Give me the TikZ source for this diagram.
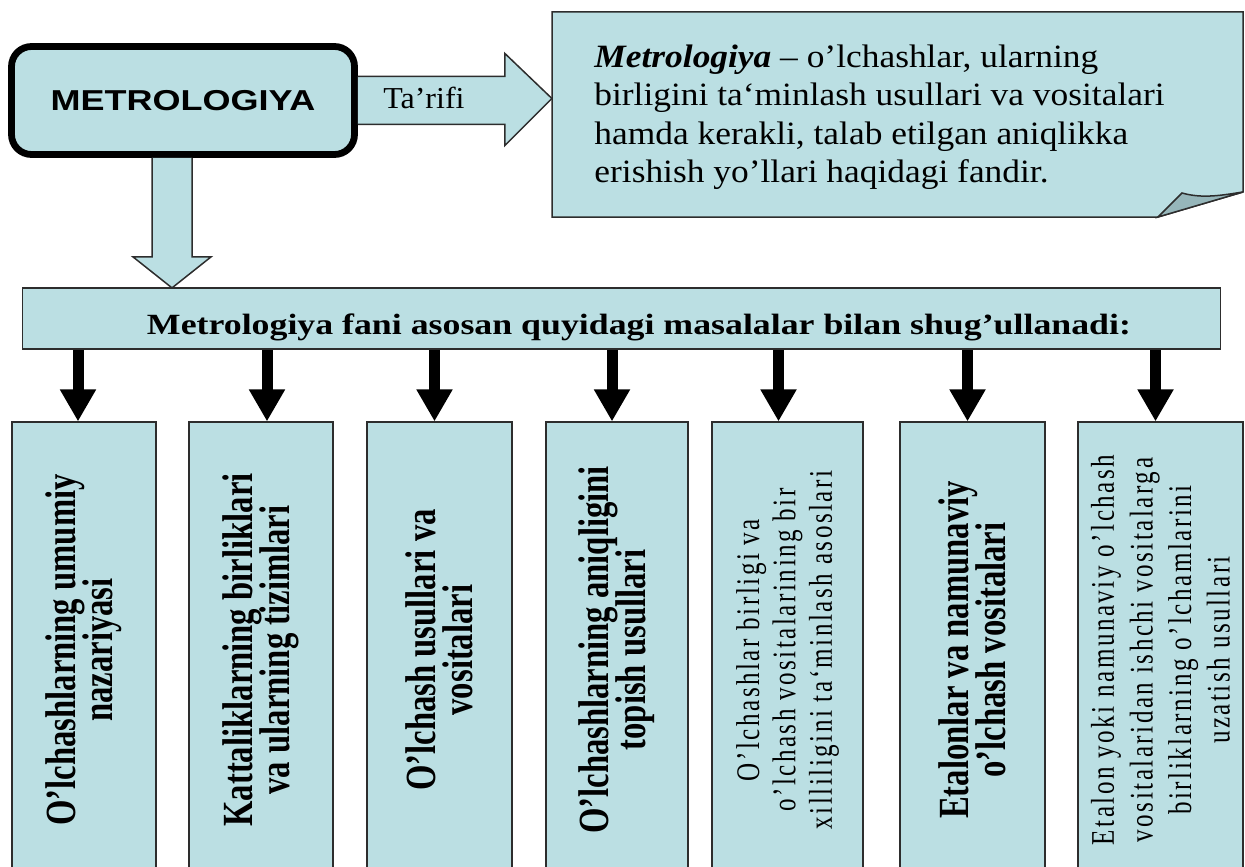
\documentclass[tikz,border=0pt]{standalone}
\usepackage{fontspec}
\usepackage{graphicx}
\setmainfont{Liberation Serif}
\newfontfamily\headfont{Liberation Sans}
\newfontfamily\spacedfont[LetterSpace=10]{Liberation Serif}
\usetikzlibrary{arrows.meta,calc}
\definecolor{boxblue}{RGB}{187,223,227}
\definecolor{foldblue}{RGB}{150,182,186}
\definecolor{edge}{RGB}{45,45,45}
\newcommand{\squash}[1]{\scalebox{1}[0.8]{#1}}
\begin{document}
\begin{tikzpicture}[x=0.5pt,y=-0.5pt,
    panel/.style={draw=edge,line width=0.75pt,fill=boxblue},
    squash/.style={yscale=#1,inner sep=0pt},
    topic/.style={panel,rotate=90,xscale=0.76,minimum width=300pt,align=center,inner sep=0pt},
    boldtopic/.style={topic,font={\fontsize{21.5}{18.5}\selectfont\bfseries\lineskiplimit=-30pt}},
    thintopic/.style={topic,font={\spacedfont\fontsize{16.5}{18.2}\selectfont\lineskiplimit=-30pt}},
    pointer/.style={line width=5.5pt,-{Triangle[width=17pt,length=16pt]}},
    fatarrow/.style={draw=edge,line width=0.75pt,fill=boxblue}]
  \useasboundingbox (0,0) rectangle (1245,866);

  % title and definition
  \node[draw,line width=3.4pt,rounded corners=10pt,fill=boxblue,
        minimum width=171.5pt,minimum height=54pt,
        font={\headfont\bfseries\fontsize{18}{20}\selectfont}] (metro) at (183,100.5) {\squash{METROLOGIYA}};
  \node[minimum width=345.5pt,minimum height=102.5pt,inner sep=0pt,outer sep=0pt] (def) at (897.5,114.5) {};
  \draw[panel] (def.north west) -- (def.north east) -- ($(def.south east)+(0,-25)$)
    -- ($(def.south east)+(-85,0)$) -- (def.south west) -- cycle;
  \draw[draw=edge,line width=0.75pt,fill=foldblue] ($(def.south east)+(-85,0)$) -- ($(def.south east)+(-61,-24)$)
    .. controls ($(def.south east)+(-40,-18)$) and ($(def.south east)+(-20,-22)$) .. ($(def.south east)+(0,-25)$) -- cycle;
  \node[squash=0.92,anchor=north west,align=left,font={\fontsize{17.7}{20.9}\selectfont}] (deftext)
    at ($(def.north west)+(42,32.5)$) {\textbf{\textit{Metrologiya}} – o’lchashlar, ularning\\
    birligini ta‘minlash usullari va vositalari\\
    hamda kerakli, talab etilgan aniqlikka\\
    erishish yo’llari haqidagi fandir.};

  \draw[fatarrow] ($(metro.east)+(0,-24)$) -- ++(147,0) -- ++(0,-23) -- ($(metro.east)+(194,-2)$)
    -- ($(metro.east)+(147,45)$) -- ++(0,-21) -- ($(metro.east)+(0,24)$);
  \node[squash=0.95,font={\fontsize{16}{18}\selectfont}] (tarif) at ($(metro.east)+(66,-3)$) {Ta’rifi};

  % banner
  \node[panel,minimum width=599pt,minimum height=30.5pt] (banner) at (621.5,318.5) {};
  \node[squash=0.82,anchor=base,font={\fontsize{17.9}{20}\selectfont\bfseries}] (bannertext) at (639,334.5)
    {Metrologiya fani asosan quyidagi masalalar bilan shug’ullanadi:};
  \draw[fatarrow] ($(metro.south)+(-31,0)$) -- ++(0,99) -- ++(-19,0) -- ($(metro.south)+(-11,130)$)
    -- ($(metro.south)+(28,99)$) -- ++(-19,0) -- ($(metro.south)+(9,0)$);

  % tasks
  \node[boldtopic,minimum height=72pt] (b1) at (84,650) {O’lchashlarning umumiy\\nazariyasi};
  \node[boldtopic,minimum height=72pt] (b2) at (261,650) {Kattaliklarning birliklari\\va ularning tizimlari};
  \node[boldtopic,minimum height=72.5pt] (b3) at (439.5,650) {O’lchash usullari va\\vositalari};
  \node[boldtopic,minimum height=71pt] (b4) at (617,650) {O’lchashlarning aniqligini\\topish usullari};
  \node[thintopic,minimum height=75.5pt] (b5) at (787.5,650) {O’lchashlar birligi va\\o’lchash vositalarining bir\\xilliligini ta‘minlash asoslari};
  \node[boldtopic,minimum height=72.5pt] (b6) at (972.5,650) {Etalonlar va namunaviy\\o’lchash vositalari};
  \node[thintopic,minimum height=82.5pt,font={\spacedfont\fontsize{16.5}{19.3}\selectfont\lineskiplimit=-30pt}] (b7) at (1160.5,650)
    {Etalon yoki namunaviy o’lchash\\vositalaridan ishchi vositalarga\\birliklarning o’lchamlarini\\uzatish usullari};

  \foreach \n/\dx in {1/-6,2/6,3/-5,4/-5,5/-9,6/-5,7/-5} {
    \coordinate (p\n) at ($(b\n.east)+(\dx,0)$);
    \draw[pointer] (p\n |- banner.south) -- (p\n);
  }
\end{tikzpicture}
\end{document}
